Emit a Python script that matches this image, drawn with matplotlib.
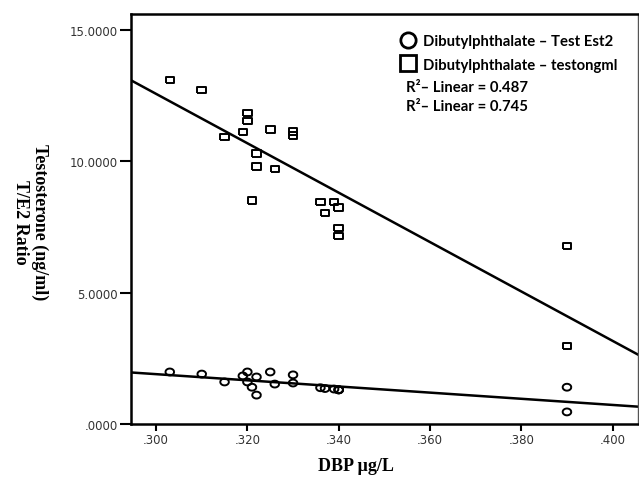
import numpy as np
import matplotlib.pyplot as plt
from matplotlib.lines import Line2D
from matplotlib.ticker import FuncFormatter

# DBP concentration (x) shared by both series
dbp = [0.303, 0.310, 0.315, 0.319, 0.320, 0.320, 0.321, 0.322, 0.322, 0.325, 0.326,
       0.330, 0.330, 0.336, 0.337, 0.339, 0.340, 0.340, 0.340, 0.390, 0.390]
# testosterone (ng/ml) - squares
testo = [13.1, 12.7, 10.93, 11.1, 11.84, 11.53, 8.5, 10.3, 9.8, 11.2, 9.7,
         11.13, 10.98, 8.45, 8.03, 8.45, 8.24, 7.46, 7.16, 6.78, 2.97]
# T/E2 ratio - circles
te2 = [1.98, 1.9, 1.6, 1.83, 1.98, 1.6, 1.4, 1.79, 1.1, 1.98, 1.52,
       1.87, 1.56, 1.38, 1.35, 1.33, 1.3, 1.3, 1.3, 1.4, 0.46]

x_ticks = [0.300, 0.320, 0.340, 0.360, 0.380, 0.400]
y_ticks = [0, 5, 10, 15]
xlim = (0.2945, 0.4055)
ylim = (0, 15.6)

# slightly flattened markers like the SPSS output
t = np.linspace(0, 2 * np.pi, 40)
ellipse = np.column_stack([np.cos(t), 0.8 * np.sin(t)])
rect = [(-1, -0.75), (1, -0.75), (1, 0.75), (-1, 0.75), (-1, -0.75)]

fig = plt.figure(figsize=(6.39, 4.81), dpi=100)
ax = fig.add_axes([0.205, 0.1164, 0.793, 0.8524])

ax.scatter(dbp, testo, marker=rect, s=38, facecolors="none", edgecolors="black", linewidths=1.4, zorder=3)
ax.scatter(dbp, te2, marker=ellipse, s=38, facecolors="none", edgecolors="black", linewidths=1.4, zorder=3)

# linear fits
xs = np.array(xlim)
for ys in (testo, te2):
    k, b = np.polyfit(dbp, ys, 1)
    ax.plot(xs, k * xs + b, color="black", lw=1.8, zorder=2)

ax.set_xlim(*xlim)
ax.set_ylim(*ylim)
ax.set_xticks(x_ticks)
ax.set_yticks(y_ticks)
ax.xaxis.set_major_formatter(FuncFormatter(lambda v, p: f"{v:.3f}".lstrip("0")))
ax.yaxis.set_major_formatter(FuncFormatter(lambda v, p: f"{v:.4f}".lstrip("0") if v == 0 else f"{v:.4f}"))
ax.tick_params(axis="both", direction="out", labelsize=8.5, colors="black", labelcolor="#333333", width=1.5, pad=1.5)
ax.tick_params(axis="y", length=8)
ax.tick_params(axis="x", length=5)
for s in ["left", "bottom", "top"]:
    ax.spines[s].set_linewidth(1.8)
ax.spines["right"].set_linewidth(1.0)
ax.spines["right"].set_color("#555555")

# legend
handles = [
    Line2D([], [], marker="o", ls="", mfc="white", mec="black", ms=11, mew=2),
    Line2D([], [], marker="s", ls="", mfc="white", mec="black", ms=12, mew=2),
]
leg = ax.legend(handles, ["Dibutylphthalate \u2013 Test Est2", "Dibutylphthalate \u2013 testongml"],
                loc="upper left", bbox_to_anchor=(0.52, 0.965), frameon=False,
                prop={"family": "Lato", "weight": "bold", "size": 10.7},
                handlelength=1.0, handletextpad=0.5, labelspacing=0.62, borderaxespad=0)
ax.text(0.542, 0.838, "R\u00b2\u2013 Linear = 0.487\nR\u00b2\u2013 Linear = 0.745", transform=ax.transAxes,
        family="Lato", weight="bold", size=10.7, va="top", ha="left", linespacing=1.4)

fig.text(0.557, 0.031, "DBP \u00b5g/L", family="Liberation Serif", weight="bold", size=13, ha="center", va="center")
fig.text(0.047, 0.538, "Testosterone (ng/ml)\nT/E2 Ratio", family="Liberation Serif", weight="bold",
         size=13, ha="center", va="center", rotation=270, multialignment="center")

fig.savefig("out.png", dpi=100)
